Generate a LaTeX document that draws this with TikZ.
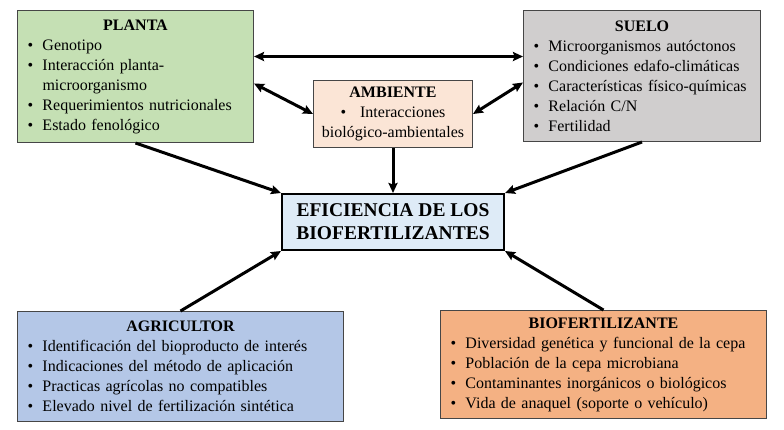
\documentclass[tikz,border=0pt]{standalone}
\usepackage{fontspec}
\setmainfont{Liberation Serif}
\usetikzlibrary{arrows.meta,positioning}
\definecolor{plantacol}{RGB}{197,224,180}
\definecolor{suelocol}{RGB}{208,206,206}
\definecolor{ambientecol}{RGB}{251,229,214}
\definecolor{eficol}{RGB}{222,235,247}
\definecolor{agricol}{RGB}{180,199,231}
\definecolor{biocol}{RGB}{244,177,131}
\definecolor{bordecol}{RGB}{70,70,70}
\newcommand{\bul}{\makebox[15pt][l]{\textbullet}}
\newcommand{\sigue}{\hspace*{15pt}}
\newcommand{\titulo}[1]{\makebox[\hsize]{\bfseries #1}}
\tikzset{
  arrow/.style={-{Stealth[length=10pt,width=9pt,inset=1.5pt]},line width=3pt},
  biarrow/.style={{Stealth[length=10pt,width=9pt,inset=1.5pt]}-{Stealth[length=10pt,width=9pt,inset=1.5pt]},line width=3pt},
  factor/.style={draw=bordecol,line width=1pt,anchor=north west,align=left,
    inner xsep=10pt,inner ysep=0pt,font=\fontsize{16}{20}\selectfont},
  centro/.style={draw=black,line width=2pt,fill=eficol,align=center,
    font=\fontsize{19.5}{23}\selectfont\bfseries,minimum width=222pt,minimum height=56pt}
}

\begin{document}
\begin{tikzpicture}[x=1pt,y=-1pt]
  \useasboundingbox (0,0) rectangle (784,429);
  \node[factor,fill=plantacol,text width=216pt,minimum height=132pt] (planta) at (17,10)
    {\titulo{PLANTA}\\
     \bul Genotipo\\
     \bul Interacción planta-\\
     \sigue microorganismo\\
     \bul Requerimientos nutricionales\\
     \bul Estado fenológico};
  \node[factor,fill=suelocol,text width=217pt,minimum height=131pt] (suelo) at (523,10)
    {\titulo{SUELO}\\
     \bul Microorganismos autóctonos\\
     \bul Condiciones edafo-climáticas\\
     \bul Características físico-químicas\\
     \bul Relación C/N\\
     \bul Fertilidad};
  \node[factor,fill=ambientecol,align=center,inner xsep=3pt,text width=153pt,minimum height=67pt] (ambiente) at (313,80)
    {\textbf{AMBIENTE}\\
     \textbullet\hspace{14pt}Interacciones\\
     biológico-ambientales};
  \node[centro] (efi) at (393,222) {EFICIENCIA DE LOS\\BIOFERTILIZANTES};
  \node[factor,fill=agricol,text width=306pt,minimum height=110pt] (agri) at (17,311)
    {\titulo{AGRICULTOR}\\
     \bul Identificación del bioproducto de interés\\
     \bul Indicaciones del método de aplicación\\
     \bul Practicas agrícolas no compatibles\\
     \bul Elevado nivel de fertilización sintética};
  \node[factor,fill=biocol,text width=306pt,minimum height=108pt] (bio) at (440,310)
    {\titulo{BIOFERTILIZANTE}\\
     \bul Diversidad genética y funcional de la cepa\\
     \bul Población de la cepa microbiana\\
     \bul Contaminantes inorgánicos o biológicos\\
     \bul Vida de anaquel (soporte o vehículo)};
  % relaciones entre factores
  \draw[biarrow] ([yshift=20pt]planta.east) -- ([yshift=19.5pt]suelo.west);
  \draw[biarrow] ([yshift=-7pt]planta.east) -- (ambiente.west);
  \draw[biarrow] (ambiente.east) -- ([yshift=-6.5pt]suelo.west);
  % hacia la eficiencia
  \draw[arrow] (ambiente.south) -- (efi.north);
  \draw[arrow] (planta.south) -- (efi.north west);
  \draw[arrow] (suelo.south) -- (efi.north east);
  \draw[arrow] (agri.north) -- (efi.south west);
  \draw[arrow] (bio.north) -- (efi.south east);
\end{tikzpicture}
\end{document}
